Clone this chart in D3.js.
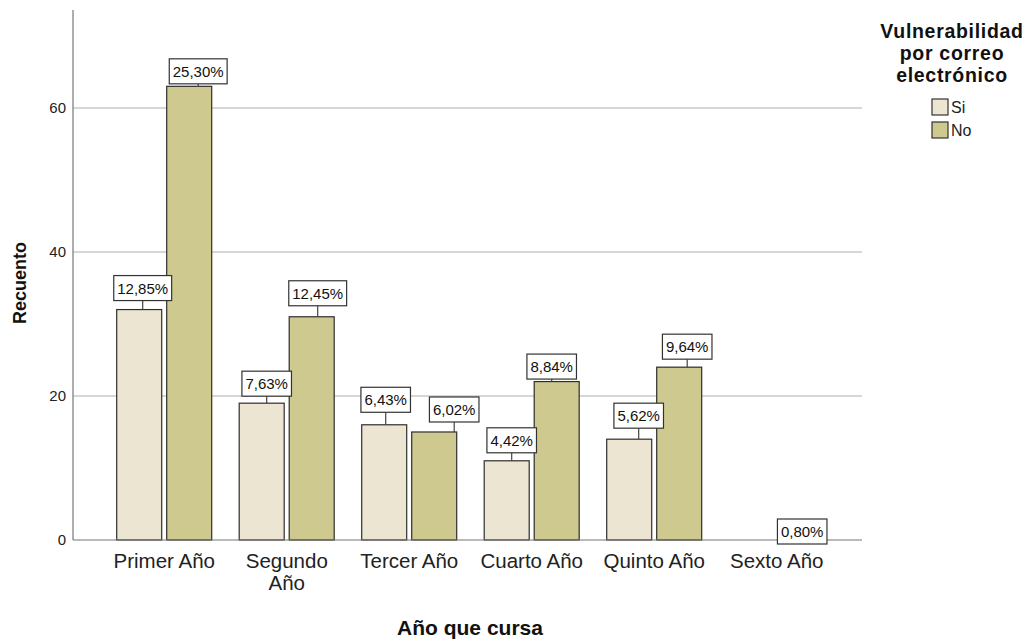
<!DOCTYPE html>
<html>
<head>
<meta charset="utf-8">
<script src="https://cdn.jsdelivr.net/npm/d3@7/dist/d3.min.js"></script>
<style>
  html, body { margin: 0; padding: 0; background: #fff; }
  svg { display: block; font-family: "Liberation Sans", Arial, sans-serif; }
</style>
</head>
<body>
<svg id="chart" width="1034" height="640"></svg>
<script>
// Recuento por año que cursa y vulnerabilidad por correo electrónico
const categories = ["Primer Año", "Segundo Año", "Tercer Año", "Cuarto Año", "Quinto Año", "Sexto Año"];
const groups = ["Si", "No"];
const countsSi = [32, 19, 16, 11, 14, 0];
const countsNo = [63, 31, 15, 22, 24, 0];
const pctSi = ["12,85%", "7,63%", "6,43%", "4,42%", "5,62%", null];
const pctNo = ["25,30%", "12,45%", "6,02%", "8,84%", "9,64%", "0,80%"];
const yTicks = [0, 20, 40, 60];

// label placement (horizontal nudge, gap above bar top)
const labelDxSi = [3.5, 5, 1.5, 5, 9.5, 0];
const labelDxNo = [9, 6, 20, -5, 8, 0.5];
const labelGapSi = [9, 7, 12.5, 8, 11, 0];
const labelGapNo = [2.5, 11, 10, 2.5, 8, -4];

const colors = { Si: "#ebe5d1", No: "#cec98f" };

const svg = d3.select("#chart");

const axisX = 73, axisBottom = 540, axisTop = 10, plotRight = 862;

const y = d3.scaleLinear().domain([0, 73.6]).range([axisBottom, axisTop]);
const x0 = d3.scaleBand().domain(categories).range([103, 838]).padding(0);
const x1 = d3.scaleBand().domain(groups).range([13.7, 108.7]).paddingInner(0.1);

// gridlines
svg.append("g")
  .selectAll("line")
  .data(yTicks.filter(d => d > 0))
  .join("line")
  .attr("x1", axisX).attr("x2", plotRight)
  .attr("y1", d => y(d)).attr("y2", d => y(d))
  .attr("stroke", "#d6d6d6").attr("stroke-width", 2);

// y axis
const yAxis = svg.append("g")
  .attr("transform", `translate(${axisX},0)`)
  .call(d3.axisLeft(y).tickValues(yTicks).tickSize(0).tickPadding(7).tickFormat(d3.format("d")));
yAxis.select(".domain").remove();
yAxis.selectAll("text").attr("font-size", 15).attr("fill", "#222")
  .attr("font-family", "Liberation Sans, Arial, sans-serif");
svg.append("line")
  .attr("x1", axisX).attr("x2", axisX).attr("y1", axisTop).attr("y2", axisBottom)
  .attr("stroke", "#777").attr("stroke-width", 1.2);

// rows
const rows = categories.map((c, i) => ([
  { cat: c, grp: "Si", value: countsSi[i], pct: pctSi[i], dx: labelDxSi[i], gap: labelGapSi[i] },
  { cat: c, grp: "No", value: countsNo[i], pct: pctNo[i], dx: labelDxNo[i], gap: labelGapNo[i] }
]));
const flat = rows.flat();

// bars
svg.append("g")
  .selectAll("rect")
  .data(flat.filter(d => d.value > 0))
  .join("rect")
  .attr("x", d => x0(d.cat) + x1(d.grp))
  .attr("y", d => y(d.value))
  .attr("width", x1.bandwidth())
  .attr("height", d => y(0) - y(d.value))
  .attr("fill", d => colors[d.grp])
  .attr("stroke", "#2e2e2e").attr("stroke-width", 1.2);

// x axis
svg.append("line")
  .attr("x1", axisX).attr("x2", plotRight).attr("y1", axisBottom).attr("y2", axisBottom)
  .attr("stroke", "#777").attr("stroke-width", 1.2);

// category labels
const catG = svg.append("g");
categories.forEach(c => {
  const cx = x0(c) + x0.bandwidth() / 2;
  const lines = c === "Segundo Año" ? ["Segundo", "Año"] : [c];
  const t = catG.append("text")
    .attr("x", cx).attr("y", 568)
    .attr("text-anchor", "middle").attr("font-size", 20.5).attr("fill", "#222");
  lines.forEach((l, k) => t.append("tspan").attr("x", cx).attr("dy", k === 0 ? 0 : 22).text(l));
});

// percentage labels
const lab = svg.append("g");
flat.filter(d => d.pct).forEach(d => {
  const bx = x0(d.cat) + x1(d.grp) + x1.bandwidth() / 2;
  const top = y(d.value);
  const cx = bx + d.dx;
  const boxBottom = top - d.gap;
  const g = lab.append("g");
  const txt = g.append("text")
    .attr("x", cx).attr("y", boxBottom - 7)
    .attr("text-anchor", "middle").attr("font-size", 15).attr("fill", "#111")
    .text(d.pct);
  const w = txt.node().getComputedTextLength() + 7;
  if (d.gap > 0) {
    g.insert("line", "text")
      .attr("x1", cx).attr("x2", cx).attr("y1", boxBottom).attr("y2", top)
      .attr("stroke", "#444").attr("stroke-width", 1.2);
  }
  g.insert("rect", "text")
    .attr("x", cx - w / 2).attr("y", boxBottom - 25)
    .attr("width", w).attr("height", 25)
    .attr("fill", "#fff").attr("stroke", "#333").attr("stroke-width", 1.2);
});

// axis titles
svg.append("text")
  .attr("transform", `translate(26,283) rotate(-90)`)
  .attr("text-anchor", "middle").attr("font-size", 18).attr("font-weight", "bold").attr("fill", "#111")
  .text("Recuento");
svg.append("text")
  .attr("x", 470).attr("y", 635)
  .attr("text-anchor", "middle").attr("font-size", 21).attr("font-weight", "bold").attr("fill", "#111")
  .text("Año que cursa");

// legend
const legend = svg.append("g");
["Vulnerabilidad", "por correo", "electrónico"].forEach((l, k) => {
  legend.append("text")
    .attr("x", 952).attr("y", 38 + k * 22)
    .attr("text-anchor", "middle").attr("font-size", 19.5).attr("letter-spacing", 0.7)
    .attr("font-weight", "bold").attr("fill", "#111")
    .text(l);
});
groups.forEach((g, k) => {
  legend.append("rect")
    .attr("x", 932).attr("y", 99 + k * 23)
    .attr("width", 16).attr("height", 16)
    .attr("fill", colors[g]).attr("stroke", "#333").attr("stroke-width", 1.2);
  legend.append("text")
    .attr("x", 951).attr("y", 113 + k * 23)
    .attr("font-size", 16).attr("fill", "#222")
    .text(g);
});
</script>
</body>
</html>
